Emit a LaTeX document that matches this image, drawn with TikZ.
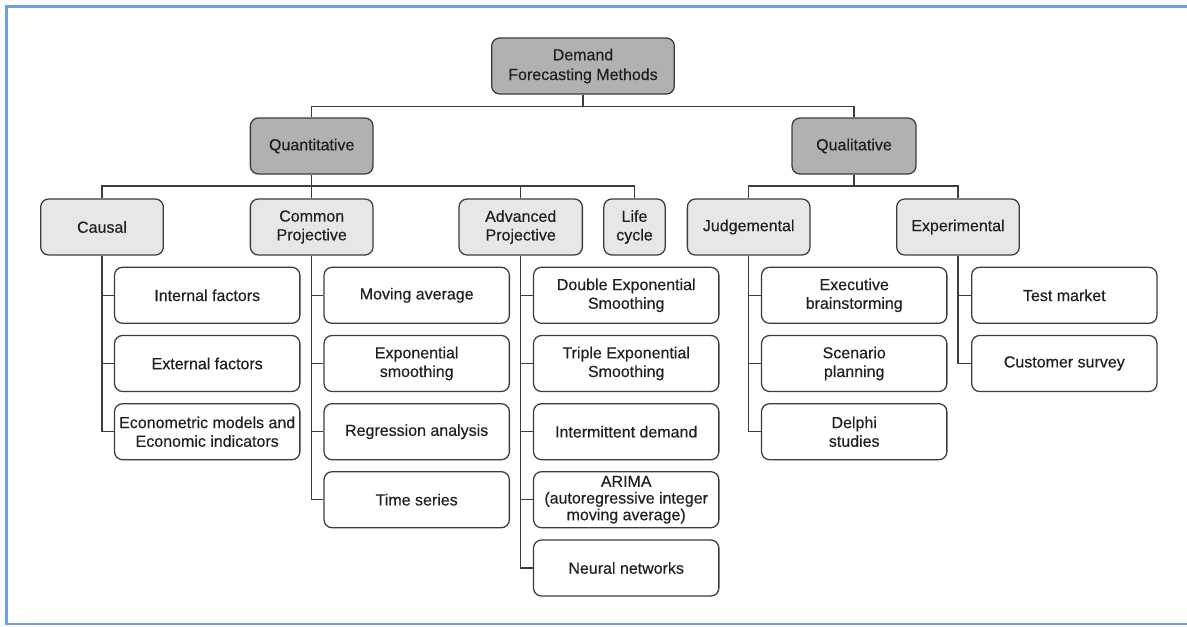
\documentclass[tikz,border=0pt]{standalone}
\usepackage{fontspec}
\setmainfont[FakeBold=0.35]{Liberation Sans}
\definecolor{frameblue}{HTML}{6AA3E0}
\definecolor{topgray}{HTML}{B1B1B1}
\definecolor{midgray}{HTML}{E6E7E8}
\definecolor{edgegray}{HTML}{3C3C3C}
\definecolor{txt}{HTML}{231F20}
\begin{document}
\begin{tikzpicture}[x=0.75pt,y=-0.75pt,
  box/.style={draw=edgegray, line width=0.95pt, rounded corners=6pt, align=center,
    inner sep=0pt, minimum height=42pt, text=txt,
    font=\fontsize{12}{14}\selectfont},
  topbox/.style={box, fill=topgray, font=\fontsize{12}{14.8}\selectfont},
  midbox/.style={box, fill=midgray},
  leaf/.style={box, fill=white, minimum width=139pt},
  link/.style={draw=edgegray, line width=0.8pt}]
\useasboundingbox (0,0) rectangle (1187,626);
\draw[frameblue, line width=1.6pt] (1187,6.5) -- (6.5,6.5) -- (6.5,624) -- (1187,624);

% top levels
\node[topbox, minimum width=137pt] (dem) at (583,66) {Demand\\Forecasting Methods};
\node[topbox, minimum width=92pt] (quant) at (311.7,146) {Quantitative};
\node[topbox, minimum width=93pt] (qual) at (854,146) {Qualitative};

% mid level
\node[midbox, minimum width=92pt] (causal) at (102,227) {Causal};
\node[midbox, minimum width=92pt] (common) at (311.7,227) {Common\\Projective};
\node[midbox, minimum width=92.5pt] (adv) at (520.7,227) {Advanced\\Projective};
\node[midbox, minimum width=46pt] (life) at (634.5,227) {Life\\cycle};
\node[midbox, minimum width=92pt] (judg) at (748.7,227) {Judgemental};
\node[midbox, minimum width=92pt] (exper) at (958,227) {Experimental};

% leaves: causal
\node[leaf] (c1) at (207.2,295.3) {Internal factors};
\node[leaf] (c2) at (207.2,363.5) {External factors};
\node[leaf] (c3) at (207.2,431.7) {Econometric models and\\Economic indicators};
% common projective
\node[leaf] (p1) at (416.7,295.3) {Moving average};
\node[leaf] (p2) at (416.7,363.5) {Exponential\\smoothing};
\node[leaf] (p3) at (416.7,431.7) {Regression analysis};
\node[leaf] (p4) at (416.7,499.7) {Time series};
% advanced projective
\node[leaf] (a1) at (626.2,295.3) {Double Exponential\\Smoothing};
\node[leaf] (a2) at (626.2,363.5) {Triple Exponential\\Smoothing};
\node[leaf] (a3) at (626.2,431.7) {Intermittent demand};
\node[leaf, font=\fontsize{12}{12.5}\selectfont] (a4) at (626.2,499.7) {ARIMA\\(autoregressive integer\\moving average)};
\node[leaf] (a5) at (626.2,568) {Neural networks};
% judgemental
\node[leaf] (j1) at (854.2,295.3) {Executive\\brainstorming};
\node[leaf] (j2) at (854.2,363.5) {Scenario\\planning};
\node[leaf] (j3) at (854.2,431.7) {Delphi\\studies};
% experimental
\node[leaf] (e1) at (1064.3,295.3) {Test market};
\node[leaf] (e2) at (1064.3,363.5) {Customer survey};

% bars
\coordinate (b1) at (0,106.3);
\coordinate (b2) at (0,186);

\draw[link] (dem.south) -- (dem.south |- b1);
\draw[link] (quant.north) -- (quant.north |- b1) -| (qual.north);

\draw[link] (quant.south) -- (quant.south |- b2);
\draw[link] (causal.north) -- (causal.north |- b2) -| (life.north);
\draw[link] (common.north) -- (common.north |- b2);
\draw[link] (adv.north) -- (adv.north |- b2);

\draw[link] (qual.south) -- (qual.south |- b2);
\draw[link] (judg.north) -- (judg.north |- b2) -| (exper.north);

% leaf connectors
\draw[link] (causal.south) |- (c3.west);
\foreach \n in {c1,c2} \draw[link] (causal.south |- \n.west) -- (\n.west);
\draw[link] (common.south) |- (p4.west);
\foreach \n in {p1,p2,p3} \draw[link] (common.south |- \n.west) -- (\n.west);
\draw[link] (adv.south) |- (a5.west);
\foreach \n in {a1,a2,a3,a4} \draw[link] (adv.south |- \n.west) -- (\n.west);
\draw[link] (judg.south) |- (j3.west);
\foreach \n in {j1,j2} \draw[link] (judg.south |- \n.west) -- (\n.west);
\draw[link] (exper.south) |- (e2.west);
\draw[link] (exper.south |- e1.west) -- (e1.west);
\end{tikzpicture}
\end{document}
